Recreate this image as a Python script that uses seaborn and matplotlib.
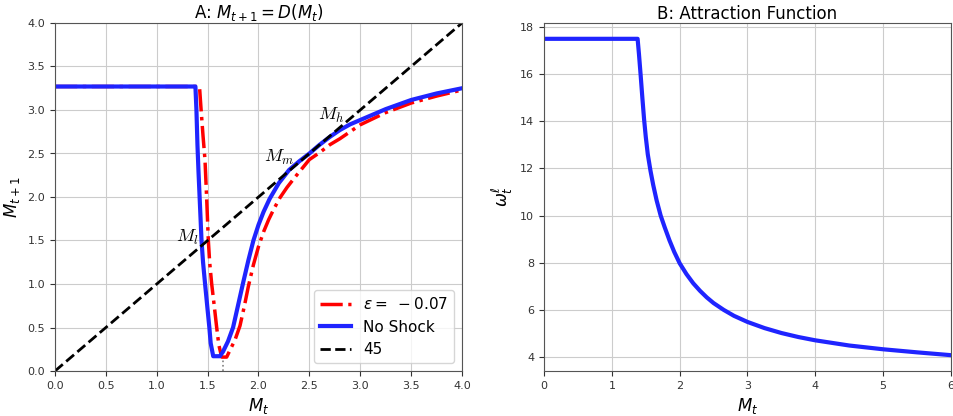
import numpy as np
import pandas as pd
import seaborn as sns
import matplotlib.pyplot as plt

# panel A: D(M_t) with and without the shock
mt_noshock = [0, 1.38, 1.39, 1.40, 1.41, 1.425, 1.44, 1.455, 1.475, 1.50, 1.517, 1.53, 1.555, 1.62,
              1.65, 1.70, 1.75, 1.80, 1.85, 1.90, 1.95, 2.0, 2.05, 2.11, 2.2, 2.3, 2.4, 2.5, 2.6,
              2.7, 2.8, 2.9, 3.0, 3.25, 3.5, 3.75, 4.0]
d_noshock = [3.27, 3.27, 3.0, 2.6, 2.3, 1.9, 1.5, 1.25, 1.0, 0.7, 0.5, 0.32, 0.17, 0.17,
             0.22, 0.34, 0.5, 0.76, 1.02, 1.27, 1.5, 1.68, 1.83, 1.98, 2.16, 2.31, 2.41, 2.5, 2.6,
             2.69, 2.77, 2.835, 2.885, 3.01, 3.115, 3.19, 3.25]

mt_shock = [0, 1.42, 1.436, 1.455, 1.474, 1.49, 1.507, 1.52, 1.54, 1.565, 1.589, 1.61, 1.638,
            1.687, 1.72, 1.77, 1.818, 1.86, 1.9, 1.95, 2.0, 2.05, 2.1, 2.15, 2.21, 2.28, 2.36,
            2.5, 2.6, 2.7, 2.8, 2.9, 3.0, 3.25, 3.5, 3.75, 4.0]
d_shock = [3.27, 3.27, 3.0, 2.7, 2.43, 2.0, 1.5, 1.25, 1.0, 0.75, 0.5, 0.3, 0.16,
           0.16, 0.24, 0.36, 0.52, 0.74, 0.97, 1.22, 1.43, 1.6, 1.74, 1.86, 1.99, 2.11, 2.23,
           2.43, 2.51, 2.6, 2.67, 2.75, 2.83, 2.97, 3.08, 3.16, 3.23]

line45 = [0, 4]

# panel B: attraction function
mt_b = [0, 1.38, 1.40, 1.425, 1.45, 1.475, 1.50, 1.53, 1.57, 1.61, 1.66, 1.72, 1.78, 1.85,
        1.92, 2.0, 2.1, 2.2, 2.3, 2.4, 2.5, 2.65, 2.8, 3.0, 3.25, 3.5, 3.75, 4.0, 4.5, 5.0,
        5.5, 6.0]
omega = [17.5, 17.5, 16.85, 15.95, 15.0, 14.1, 13.35, 12.6, 11.9, 11.3, 10.65, 10.0, 9.5, 8.95,
         8.46, 7.98, 7.52, 7.13, 6.81, 6.53, 6.29, 6.0, 5.75, 5.49, 5.23, 5.02, 4.85, 4.71, 4.49, 4.33,
         4.2, 4.08]

labels = [(r"$M_l$", 1.19, 1.53), (r"$M_m$", 2.05, 2.46), (r"$M_h$", 2.58, 2.94)]

fig = plt.figure(figsize=(9.54, 4.16), dpi=100)
ax1 = fig.add_axes([55/954, 45/416, 407/954, 348/416])
ax2 = fig.add_axes([544/954, 45/416, 407/954, 348/416])

sns.lineplot(x=mt_shock, y=d_shock, ax=ax1, color="red", lw=2.5, linestyle="-.",
             label=r"$\varepsilon =\ -0.07$", sort=False)
sns.lineplot(x=mt_noshock, y=d_noshock, ax=ax1, color="#1f24ff", lw=3, label="No Shock", sort=False)
sns.lineplot(x=line45, y=line45, ax=ax1, color="black", lw=2, linestyle="--", label="45")
ax1.vlines(1.65, 0, 0.2, colors="gray", linestyles=":", lw=1.2, zorder=1)

for txt, x, y in labels:
    ax1.text(x, y, txt, fontsize=13, math_fontfamily="cm", va="center", ha="left")

ax1.set_xlim(0, 4)
ax1.set_ylim(0, 4)
ax1.grid(True, color="#cccccc")
ax1.set_title(r"A: $M_{t+1} = D(M_t)$", fontsize=12, pad=3)
ax1.set_xlabel(r"$M_t$", fontsize=12)
ax1.set_ylabel(r"$M_{t+1}$", fontsize=12)
ax1.legend(loc="lower right", fontsize=11, handlelength=2.0)

sns.lineplot(x=mt_b, y=omega, ax=ax2, color="#1f24ff", lw=3, sort=False)
ax2.set_xlim(0, 6)
ax2.grid(True, color="#cccccc")
ax2.set_title("B: Attraction Function", fontsize=12, pad=3)
ax2.set_xlabel(r"$M_t$", fontsize=12)
ax2.set_ylabel(r"$\omega_t^\ell$", fontsize=12)

for ax in (ax1, ax2):
    ax.tick_params(labelsize=8, colors="#333333")
    for s in ax.spines.values():
        s.set_color("#555555")

fig.savefig("out.png", dpi=100)
